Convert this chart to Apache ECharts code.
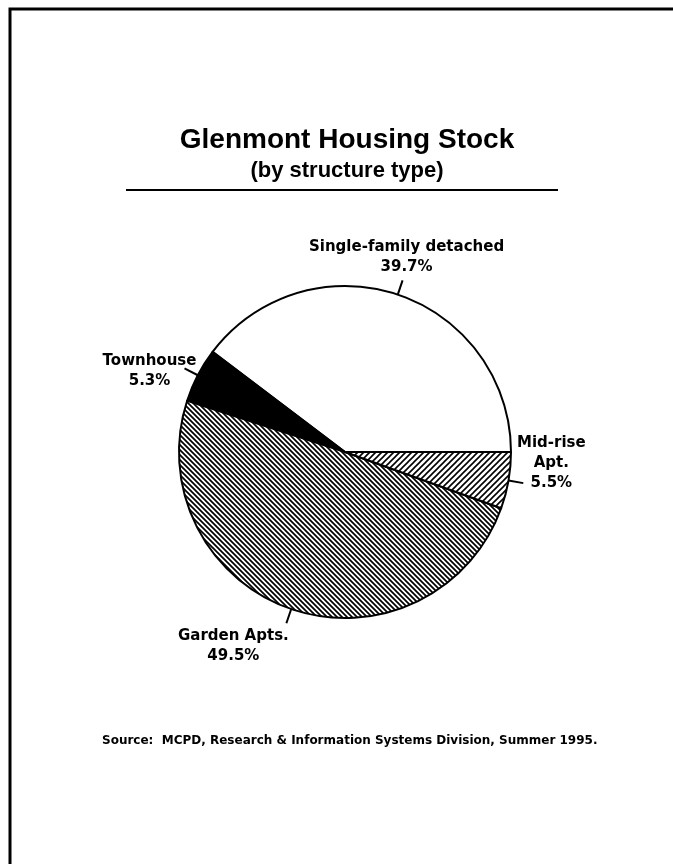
<!DOCTYPE html>
<html>
<head>
<meta charset="utf-8">
<script src="https://cdn.jsdelivr.net/npm/echarts@6/dist/echarts.min.js"></script>
<style>
  html, body { margin: 0; padding: 0; background: #fff; }
  #chart { width: 673px; height: 864px; }
</style>
</head>
<body>
<div id="chart"></div>
<script>
// 数据
const categories = ['Single-family detached', 'Townhouse', 'Garden Apts.', 'Mid-rise\nApt.']
const shares = [39.7, 5.3, 49.5, 5.5]
const titleText = 'Glenmont Housing Stock'
const subtitleText = '(by structure type)'
const sourceText = 'Source:  MCPD, Research & Information Systems Division, Summer 1995.'

// 斜线填充
const hatch = (dir, size, width) => {
  const c = document.createElement('canvas')
  c.width = c.height = size
  const ctx = c.getContext('2d')
  ctx.fillStyle = '#fff'
  ctx.fillRect(0, 0, size, size)
  ctx.strokeStyle = '#000'
  ctx.lineWidth = width
  ctx.beginPath()
  if (dir === 'back') {
    ctx.moveTo(-1, -1); ctx.lineTo(size + 1, size + 1)
    ctx.moveTo(-1, size - 1); ctx.lineTo(1, size + 1)
    ctx.moveTo(size - 1, -1); ctx.lineTo(size + 1, 1)
  } else {
    ctx.moveTo(-1, size + 1); ctx.lineTo(size + 1, -1)
    ctx.moveTo(-1, 1); ctx.lineTo(1, -1)
    ctx.moveTo(size - 1, size + 1); ctx.lineTo(size + 1, size - 1)
  }
  ctx.stroke()
  return c
}

const fills = [
  '#ffffff',
  '#000000',
  { image: hatch('back', 5, 1.7), repeat: 'repeat' },
  { image: hatch('fwd', 6, 1.6), repeat: 'repeat' }
]

// 标签相对引导线末端的偏移
const labelOffsets = [
  { dx: 4, dy: -3, v: 'bottom' },
  { dx: -35, dy: 3, v: 'middle' },
  { dx: -53, dy: 3, v: 'top' },
  { dx: 28, dy: -20, v: 'middle' }
]

const myChart = echarts.init(document.getElementById('chart'))

const option = {
  animation: false,
  graphic: [
    {
      type: 'polyline',
      shape: { points: [[10, 864], [10, 9], [673, 9]] },
      style: { stroke: '#000', lineWidth: 3, fill: null }
    },
    {
      type: 'text', x: 347, y: 140,
      style: { text: titleText, fill: '#000', font: 'bold 28px "Liberation Sans", Arial, sans-serif', textAlign: 'center', textVerticalAlign: 'middle' }
    },
    {
      type: 'text', x: 347, y: 171,
      style: { text: subtitleText, fill: '#000', font: 'bold 22px "Liberation Sans", Arial, sans-serif', textAlign: 'center', textVerticalAlign: 'middle' }
    },
    {
      type: 'line',
      shape: { x1: 126, y1: 190, x2: 558, y2: 190 },
      style: { stroke: '#000', lineWidth: 2 }
    },
    {
      type: 'text', x: 102, y: 741,
      style: { text: sourceText, fill: '#000', font: 'bold 12px "DejaVu Sans", sans-serif', textAlign: 'left', textVerticalAlign: 'middle' }
    }
  ],
  series: [
    {
      type: 'pie',
      center: [345, 452],
      radius: 166,
      startAngle: 0,
      clockwise: false,
      silent: true,
      avoidLabelOverlap: false,
      itemStyle: { borderColor: '#000', borderWidth: 2 },
      label: {
        show: true,
        position: 'outside',
        formatter: p => p.name + '\n' + p.value.toFixed(1) + '%',
        color: '#000',
        fontFamily: 'DejaVu Sans',
        fontWeight: 'bold',
        fontSize: 15,
        lineHeight: 20,
        align: 'center'
      },
      labelLine: {
        show: true,
        length: 15,
        length2: 0,
        lineStyle: { color: '#000', width: 2 }
      },
      labelLayout(params) {
        const pts = params.labelLinePoints
        const o = labelOffsets[params.dataIndex]
        const p1 = pts[1]
        return {
          x: p1[0] + o.dx,
          y: p1[1] + o.dy,
          align: 'center',
          verticalAlign: o.v,
          labelLinePoints: [pts[0], p1, p1]
        }
      },
      data: categories.map((name, i) => ({
        name,
        value: shares[i],
        itemStyle: { color: fills[i] }
      }))
    }
  ]
}

myChart.setOption(option)
</script>
</body>
</html>
